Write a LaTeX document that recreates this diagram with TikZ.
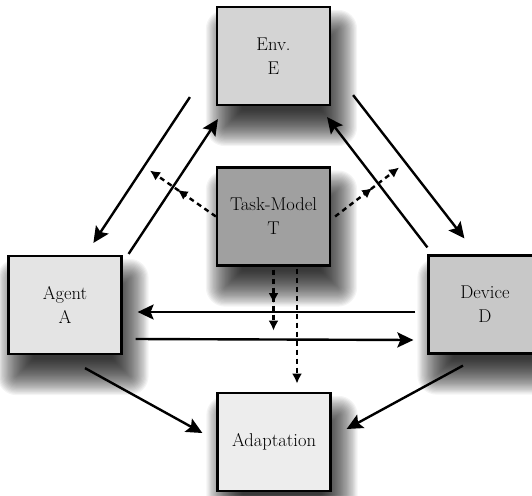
\documentclass[tikz,border=0pt]{standalone}
\usetikzlibrary{arrows.meta,decorations.markings}
\definecolor{cE}{RGB}{212,212,212}
\definecolor{cA}{RGB}{228,228,228}
\definecolor{cT}{RGB}{160,160,160}
\definecolor{cD}{RGB}{200,200,200}
\definecolor{cAd}{RGB}{237,237,237}
\pgfdeclarelayer{bglayer}
\pgfdeclarelayer{shadowlayer}
\pgfsetlayers{bglayer,shadowlayer,main}
\newcommand{\softshadow}[1]{%
  \foreach \e in {18,16.8,...,-18.5} {%
    \pgfmathsetmacro{\rc}{max(\e,0)+1}%
    \fill[black, opacity=0.045, rounded corners=\rc pt]
      ([shift={(8-\e,22-\e)}]#1.north west) rectangle ([shift={(8+\e,22+\e)}]#1.south east);
  }}
\begin{document}
\begin{tikzpicture}[x=1pt,y=-1pt,
  box/.style={draw=black, line width=2.2pt, minimum width=113pt, minimum height=98pt,
    inner sep=0pt, align=center, font=\fontsize{18.5}{24}\selectfont},
  solidarr/.style={line width=2.4pt, -{Stealth[length=16pt,width=15pt,inset=3pt]}},
  dotarr/.style={line width=2.4pt, dash pattern=on 5pt off 4pt,
    -{Latex[length=10pt,width=10pt]}},
  midarr/.style={postaction={decorate}, decoration={markings,
    mark=at position #1 with {\arrow{Latex[length=10pt,width=10pt]}}}}
]
\useasboundingbox (0,0) rectangle (532,495);
\begin{pgfonlayer}{bglayer}
\fill[white] (0,0) rectangle (532,495);
\end{pgfonlayer}

\node[box, fill=cE]  (E)  at (273.5,56)  {Env.\\E};
\node[box, fill=cA]  (A)  at (65,305)    {Agent\\A};
\node[box, fill=cT]  (T)  at (273.5,216.5) {Task-Model\\T};
\node[box, fill=cD]  (D)  at (485,304.5) {Device\\D};
\node[box, fill=cAd] (Ad) at (274,442)   {Adaptation};

\begin{pgfonlayer}{shadowlayer}
\softshadow{E}
\softshadow{A}
\softshadow{T}
\softshadow{D}
\softshadow{Ad}
\end{pgfonlayer}

% Env <-> Agent
\draw[solidarr] ([shift={(-26,-9)}]E.south west) -- ([shift={(86,-12)}]A.north west);
\draw[solidarr] ([shift={(6,-1)}]A.north east) -- ([shift={(2,13)}]E.south west);
% Env <-> Device
\draw[solidarr] ([shift={(22,-11)}]E.south east) -- ([shift={(37,-16)}]D.north west);
\draw[solidarr] ([shift={(0,-7)}]D.north west) -- ([shift={(-4,11)}]E.south east);
% Agent <-> Device
\draw[solidarr] ([shift={(-12,7.5)}]D.west) -- ([shift={(15,7)}]A.east);
\draw[solidarr] ([shift={(13,34)}]A.east) -- ([shift={(-14,35.5)}]D.west);
% to Adaptation
\draw[solidarr] ([shift={(20,13)}]A.south) -- ([shift={(-14,-9)}]Ad.west);
\draw[solidarr] ([shift={(-22,11)}]D.south) -- ([shift={(15,-13)}]Ad.east);

% Task-model dotted
\draw[dotarr, midarr=0.58] (T.west) -- ([shift={(-66,-46)}]T.west);
\draw[dotarr, midarr=0.58] ([shift={(4,0)}]T.east) -- ([shift={(68,-49)}]T.east);
\draw[dotarr, midarr=0.55] ([shift={(0,3)}]T.south) -- ([shift={(0,64)}]T.south);
\draw[dotarr] ([shift={(23.5,2)}]T.south) -- ([shift={(23.5,117)}]T.south);
\end{tikzpicture}
\end{document}
